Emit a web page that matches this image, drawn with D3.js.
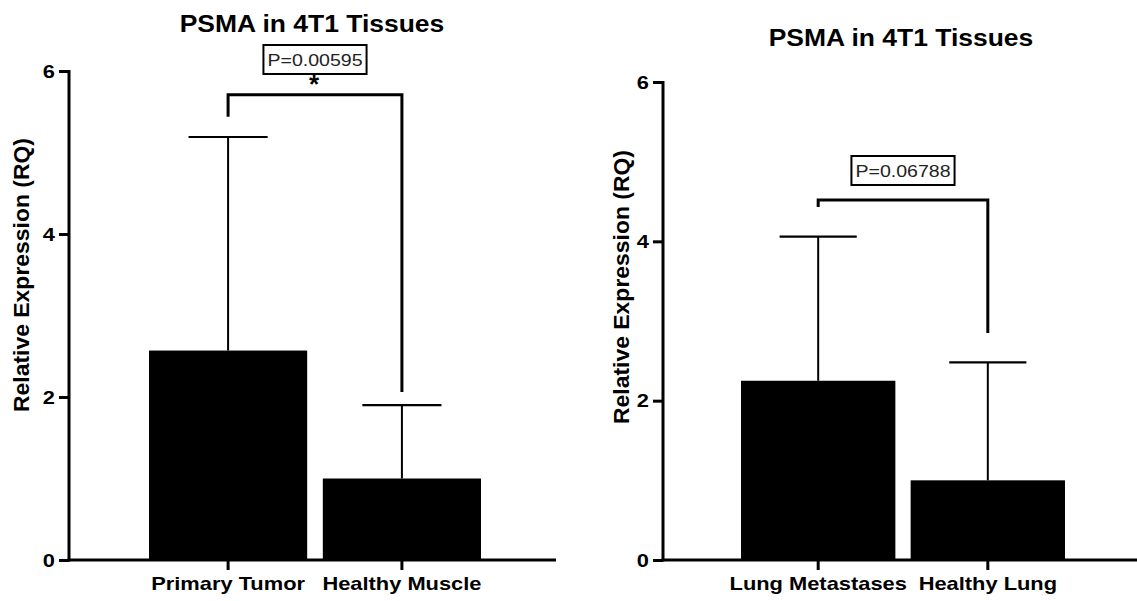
<!DOCTYPE html>
<html>
<head>
<meta charset="utf-8">
<script src="https://cdn.jsdelivr.net/npm/d3@7"></script>
<style>
  html, body { margin: 0; padding: 0; background: #fff; }
  svg { display: block; }
  text { font-family: "Liberation Sans", Arial, Helvetica, sans-serif; }
</style>
</head>
<body>
<script>
// ---------- data ----------
const titleText = "PSMA in 4T1 Tissues";
const yAxisLabel = "Relative Expression (RQ)";
const yTicks = [0, 2, 4, 6];

const categoriesA = ["Primary Tumor", "Healthy Muscle"];
const meansA = [2.57, 1.0];
const upperA = [5.19, 1.90];           // mean + error
const pTextA = "P=0.00595";
const sigA = "*";
const bracketA = [5.71, 5.44, 2.06];   // bracket level, left end, right end

const categoriesB = ["Lung Metastases", "Healthy Lung"];
const meansB = [2.25, 1.0];
const upperB = [4.06, 2.48];
const pTextB = "P=0.06788";
const sigB = "";
const bracketB = [4.52, 4.43, 2.85];

// ---------- layout ----------
const W = 1137, H = 601;
const STRETCH = 1.15;
const svg = d3.select("body").append("svg").attr("width", W).attr("height", H);

function stretch(sel, k) {
  sel.each(function () {
    const w = this.getComputedTextLength();
    d3.select(this).attr("textLength", w * k).attr("lengthAdjust", "spacingAndGlyphs");
  });
}

function drawPanel(cfg) {
  const g = svg.append("g");
  const y = d3.scaleLinear().domain([0, 6]).range([cfg.base, cfg.top]);
  const x = d3.scaleBand().domain(cfg.categories).range(cfg.xRange).paddingInner(0.09).paddingOuter(0);
  const bw = x.bandwidth();
  const cx = c => x(c) + bw / 2;
  const data = cfg.categories.map((c, i) => ({ c, m: cfg.means[i], u: cfg.upper[i] }));

  // bars
  g.selectAll("rect.bar").data(data).join("rect")
    .attr("class", "bar")
    .attr("x", d => x(d.c)).attr("width", bw)
    .attr("y", d => y(d.m)).attr("height", d => y(0) - y(d.m))
    .attr("fill", "#000");

  // error bars
  g.selectAll("line.err").data(data).join("line")
    .attr("class", "err")
    .attr("x1", d => cx(d.c)).attr("x2", d => cx(d.c))
    .attr("y1", d => y(d.m)).attr("y2", d => y(d.u))
    .attr("stroke", "#000").attr("stroke-width", 2);
  g.selectAll("line.cap").data(data).join("line")
    .attr("class", "cap")
    .attr("x1", d => cx(d.c) - bw * 0.25).attr("x2", d => cx(d.c) + bw * 0.25)
    .attr("y1", d => y(d.u)).attr("y2", d => y(d.u))
    .attr("stroke", "#000").attr("stroke-width", 2.2);

  // y axis
  const ya = g.append("g").attr("transform", `translate(${cfg.axisX},0)`)
    .call(d3.axisLeft(y).tickValues(yTicks).tickSize(10).tickSizeOuter(0).tickPadding(4).tickFormat(d3.format("d")));
  ya.select(".domain").attr("stroke-width", 3).attr("d", `M0,${y(6) - 1}V${y(0) + 1.5}`);
  ya.selectAll(".tick line").attr("stroke-width", 3);
  ya.selectAll(".tick text").attr("font-size", 19).attr("font-weight", "bold").attr("fill", "#000")
    .attr("font-family", "'Liberation Sans', Arial, sans-serif").call(stretch, STRETCH);

  // x axis baseline + ticks
  g.append("line").attr("x1", cfg.axisX - 1.5).attr("x2", cfg.xEnd)
    .attr("y1", y(0)).attr("y2", y(0)).attr("stroke", "#000").attr("stroke-width", 3);
  const xa = g.append("g").attr("transform", `translate(0,${y(0)})`)
    .call(d3.axisBottom(x).tickSize(10).tickSizeOuter(0).tickPadding(7));
  xa.select(".domain").remove();
  xa.selectAll(".tick line").attr("stroke-width", 3);
  xa.selectAll(".tick text").attr("font-size", 19).attr("font-weight", "bold").attr("fill", "#000")
    .attr("font-family", "'Liberation Sans', Arial, sans-serif").call(stretch, STRETCH);

  // y label
  g.append("text")
    .attr("transform", `translate(${cfg.yLabelX},${cfg.yLabelY}) rotate(-90)`)
    .attr("text-anchor", "middle").attr("font-size", 22).attr("font-weight", "bold")
    .attr("textLength", 274).attr("lengthAdjust", "spacingAndGlyphs")
    .text(yAxisLabel);

  // title
  g.append("text").attr("x", cfg.titleX).attr("y", cfg.titleY)
    .attr("text-anchor", "middle").attr("font-size", 23).attr("font-weight", "bold")
    .text(titleText).call(stretch, STRETCH);

  // bracket
  const [lv, le, re] = cfg.bracket;
  const x1 = cx(cfg.categories[0]), x2 = cx(cfg.categories[1]);
  g.append("path")
    .attr("d", `M${x1},${y(le)}V${y(lv)}H${x2}V${y(re)}`)
    .attr("fill", "none").attr("stroke", "#000").attr("stroke-width", 3);

  // p-value box
  const mid = (x1 + x2) / 2;
  const box = g.append("rect");
  const pt = g.append("text").attr("x", mid).attr("y", cfg.pBoxY + 21)
    .attr("text-anchor", "middle").attr("font-size", 17).attr("fill", "#222")
    .text(cfg.pText).call(stretch, STRETCH);
  const tw = +pt.attr("textLength");
  box.attr("x", mid - tw / 2 - 4).attr("y", cfg.pBoxY)
    .attr("width", tw + 8).attr("height", 29)
    .attr("fill", "#fff").attr("stroke", "#000").attr("stroke-width", 2);

  if (cfg.sig) {
    g.append("text").attr("x", mid - 1).attr("y", cfg.pBoxY + 48)
      .attr("text-anchor", "middle").attr("font-size", 26).attr("font-weight", "bold")
      .text(cfg.sig);
  }
}

drawPanel({
  categories: categoriesA, means: meansA, upper: upperA, pText: pTextA, sig: sigA, bracket: bracketA,
  base: 560, top: 71, axisX: 69, xRange: [149, 481], xEnd: 556,
  titleX: 312, titleY: 32, yLabelX: 29, yLabelY: 275, pBoxY: 45
});
drawPanel({
  categories: categoriesB, means: meansB, upper: upperB, pText: pTextB, sig: sigB, bracket: bracketB,
  base: 560, top: 82, axisX: 663, xRange: [741, 1065], xEnd: 1137,
  titleX: 901, titleY: 46, yLabelX: 629, yLabelY: 287, pBoxY: 156
});
</script>
</body>
</html>
